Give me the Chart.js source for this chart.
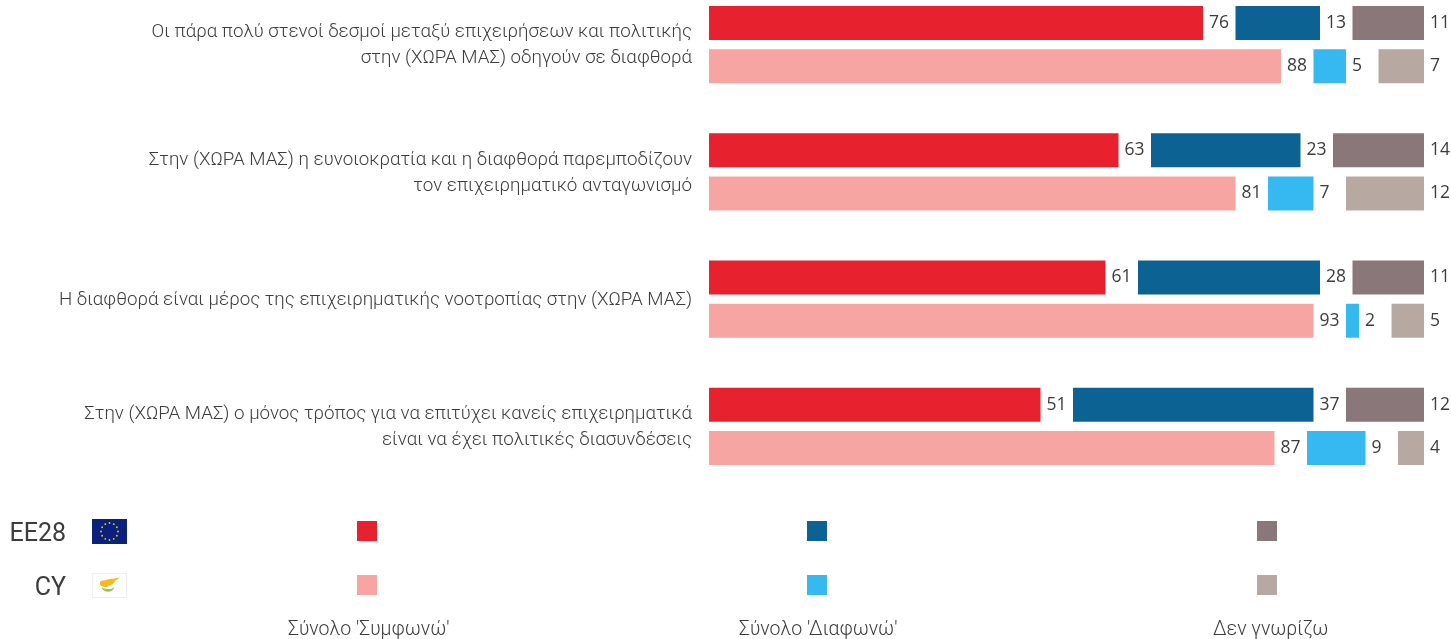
<!DOCTYPE html>
<html lang="el">
<head>
<meta charset="utf-8">
<title>Chart</title>
<script src="https://cdn.jsdelivr.net/npm/chart.js@4"></script>
<style>
html,body{margin:0;padding:0;background:#fff;width:1451px;height:639px;overflow:hidden}
#wrap{position:absolute;left:0;top:-19px;width:1451px;height:658px}
.t{position:absolute;white-space:nowrap;color:#3c3c3c;font-family:Roboto,sans-serif;font-weight:300;line-height:1}
.sw{position:absolute;width:20px;height:20px}
svg{position:absolute}
</style>
</head>
<body>
<div id="wrap"><canvas id="c" width="1451" height="658"></canvas></div>
<div class="t" id="row1" style="right:1385px;top:520px;font-size:25px;font-weight:400"></div>
<div class="t" id="row2" style="right:1385px;top:574px;font-size:25px;font-weight:400"></div>
<svg style="left:92px;top:519px" width="35" height="25" viewBox="0 0 35 25" id="eu"><rect width="35" height="25" fill="#0b1f7c"/></svg>
<svg style="left:92px;top:573px" width="35" height="25" viewBox="0 0 35 25"><rect x=".5" y=".5" width="34" height="24" fill="#fff" stroke="#eeeeee"/><path d="M8 8.500 C10 7 12 8 14 7 L18 6 C20 6 24 5 28 4.500 L23 8 C22.500 10.500 19 12 17 12.500 L15 14 C12 14 9 13.500 8 12Z" fill="#fbb81e"/><path d="M10 15 C12 19 19 19.500 22 15 C20 17 13 17 10 15Z" fill="#86c84e" stroke="#86c84e" stroke-width="1"/></svg>
<div id="legend"></div>
<script>
const categories = [
  ["Οι πάρα πολύ στενοί δεσμοί μεταξύ επιχειρήσεων και πολιτικής", "στην (ΧΩΡΑ ΜΑΣ) οδηγούν σε διαφθορά"],
  ["Στην (ΧΩΡΑ ΜΑΣ) η ευνοιοκρατία και η διαφθορά παρεμποδίζουν", "τον επιχειρηματικό ανταγωνισμό"],
  "Η διαφθορά είναι μέρος της επιχειρηματικής νοοτροπίας στην (ΧΩΡΑ ΜΑΣ)",
  ["Στην (ΧΩΡΑ ΜΑΣ) ο μόνος τρόπος για να επιτύχει κανείς επιχειρηματικά", "είναι να έχει πολιτικές διασυνδέσεις"]
];
const rowNames = ["EE28", "CY"];
const seriesNames = ["Σύνολο 'Συμφωνώ'", "Σύνολο 'Διαφωνώ'", "Δεν γνωρίζω"];
const ee28Agree    = [76, 63, 61, 51];
const ee28Disagree = [13, 23, 28, 37];
const ee28DontKnow = [11, 14, 11, 12];
const cyAgree      = [88, 81, 93, 87];
const cyDisagree   = [5, 7, 2, 9];
const cyDontKnow   = [7, 12, 5, 4];

const eeColors = ["#e8212f", "#0b6293", "#89777a"];
const cyColors = ["#f6a5a2", "#36b8f1", "#b7a9a2"];
const GAP = 5; // transparent room for the value label, in axis units

function build(stack, series, colors) {
  const out = [];
  series.forEach((values, s) => {
    out.push({ label: stack + " " + seriesNames[s], stack, backgroundColor: colors[s], data: values });
    if (s < series.length - 1) {
      out.push({ label: "", spacer: true, stack, backgroundColor: "rgba(0,0,0,0)", data: values.map(() => GAP) });
    }
  });
  return out;
}
const datasets = [
  ...build(rowNames[0], [ee28Agree, ee28Disagree, ee28DontKnow], eeColors),
  ...build(rowNames[1], [cyAgree, cyDisagree, cyDontKnow], cyColors)
];

const valueLabels = {
  id: "valueLabels",
  afterDatasetsDraw(chart) {
    const ctx = chart.ctx;
    ctx.save();
    ctx.font = "17.5px 'Open Sans', sans-serif";
    ctx.fillStyle = "#3c3c3c";
    ctx.textAlign = "left";
    ctx.textBaseline = "middle";
    chart.data.datasets.forEach((ds, d) => {
      if (ds.spacer) return;
      chart.getDatasetMeta(d).data.forEach((bar, i) => {
        ctx.fillText(String(ds.data[i]), bar.x + 6, bar.y);
      });
    });
    ctx.restore();
  }
};

new Chart(document.getElementById("c"), {
  type: "bar",
  data: { labels: categories, datasets },
  plugins: [valueLabels],
  options: {
    indexAxis: "y",
    responsive: false,
    animation: false,
    devicePixelRatio: 1,
    categoryPercentage: 0.68,
    barPercentage: 0.786,
    layout: { padding: { top: 0, bottom: 149, left: 0, right: 27 }, autoPadding: false },
    plugins: { legend: { display: false }, tooltip: { enabled: false } },
    scales: {
      x: { display: false, stacked: true, min: 0, max: 110 },
      y: {
        stacked: true,
        grid: { display: false, drawTicks: false },
        border: { display: false },
        afterFit(s) { s.width = 709; s.paddingTop = 0; s.paddingBottom = 0; },
        ticks: {
          autoSkip: false,
          padding: 17,
          labelOffset: 1,
          color: "#3c3c3c",
          font: { family: "Roboto, sans-serif", size: 18.76, weight: "300", lineHeight: 1.39 }
        }
      }
    }
  }
});

// legend block
document.getElementById("row1").textContent = rowNames[0];
document.getElementById("row2").textContent = rowNames[1];
const legend = document.getElementById("legend");
const swatchX = [357, 807, 1257];
const labelX = [288, 739, 1213];
seriesNames.forEach((name, s) => {
  [[521, eeColors], [575, cyColors]].forEach(([top, cols]) => {
    const d = document.createElement("div");
    d.className = "sw";
    d.style.left = swatchX[s] + "px";
    d.style.top = top + "px";
    d.style.background = cols[s];
    legend.appendChild(d);
  });
  const t = document.createElement("div");
  t.className = "t";
  t.style.left = labelX[s] + "px";
  t.style.top = "619px";
  t.style.fontSize = "19.500px";
  t.textContent = name;
  legend.appendChild(t);
});

// EU flag stars
const eu = document.getElementById("eu");
for (let i = 0; i < 12; i++) {
  const a = i * Math.PI / 6;
  const c = document.createElementNS("http://www.w3.org/2000/svg", "circle");
  c.setAttribute("cx", 17.5 + 8.5 * Math.cos(a));
  c.setAttribute("cy", 12.5 + 8.5 * Math.sin(a));
  c.setAttribute("r", 0.9);
  c.setAttribute("fill", "#f0d000");
  eu.appendChild(c);
}
</script>
</body>
</html>
